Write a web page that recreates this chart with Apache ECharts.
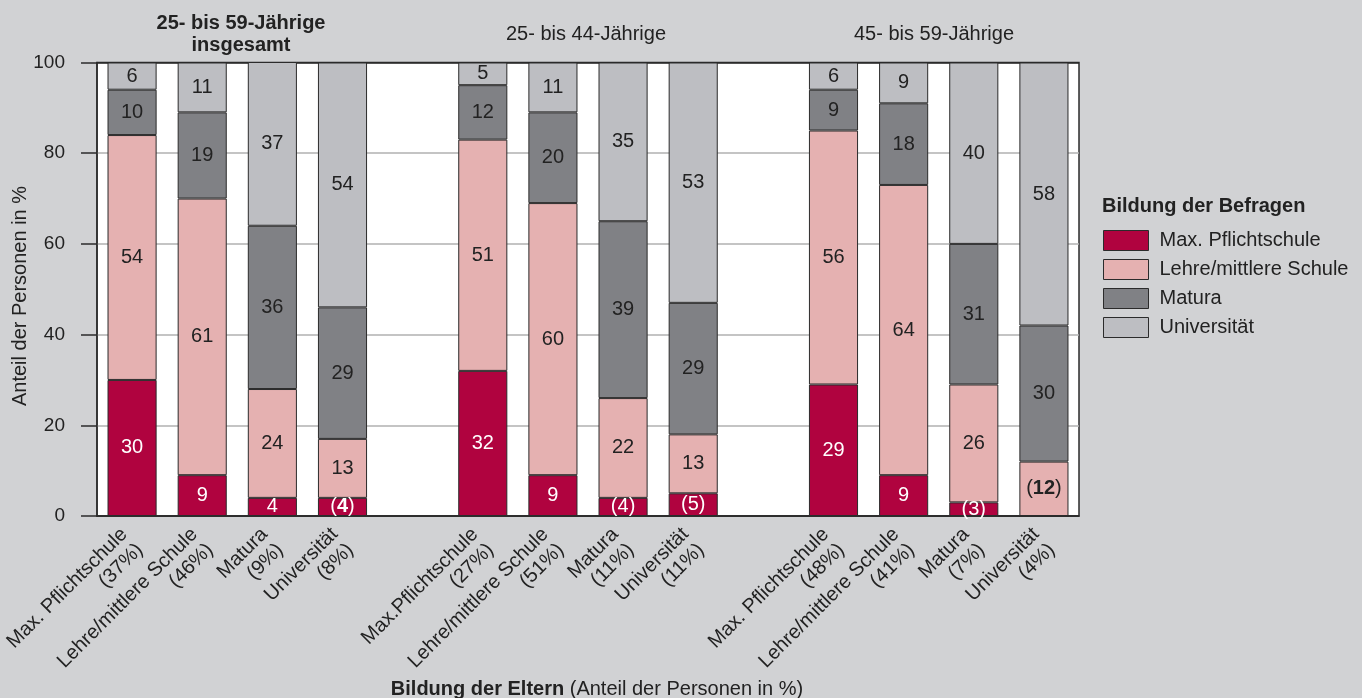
<!DOCTYPE html>
<html><head><meta charset="utf-8">
<script src="https://cdn.jsdelivr.net/npm/echarts@6/dist/echarts.min.js"></script>
<style>html,body{margin:0;padding:0;background:#d1d2d4}#c{width:1362px;height:698px}</style>
</head><body><div id="c"></div>
<script>
const categories = [
  'Max. Pflichtschule\n(37%)', 'Lehre/mittlere Schule\n(46%)', 'Matura\n(9%)', 'Universität\n(8%)', '',
  'Max.Pflichtschule\n(27%)', 'Lehre/mittlere Schule\n(51%)', 'Matura\n(11%)', 'Universität\n(11%)', '',
  'Max. Pflichtschule\n(48%)', 'Lehre/mittlere Schule\n(41%)', 'Matura\n(7%)', 'Universität\n(4%)'
];
const groupTitles = ['25- bis 59-Jährige\ninsgesamt', '25- bis 44-Jährige', '45- bis 59-Jährige'];
const seriesNames = ['Max. Pflichtschule', 'Lehre/mittlere Schule', 'Matura', 'Universität'];
const pflicht = [30, 9, 4, 4, null, 32, 9, 4, 5, null, 29, 9, 3, 0];
const lehre   = [54, 61, 24, 13, null, 51, 60, 22, 13, null, 56, 64, 26, 12];
const matura  = [10, 19, 36, 29, null, 12, 20, 39, 29, null, 9, 18, 31, 30];
const uni     = [6, 11, 37, 54, null, 5, 11, 35, 53, null, 6, 9, 40, 58];
// small-sample values shown in parentheses; some with bold digits
const parenIdx = [[3, 7, 8, 12], [13], [], []];
const boldIdx  = [[3], [13], [], []];
const yTicks = [0, 20, 40, 60, 80, 100];

const colors = ['#b0033f', '#e5b1b1', '#808185', '#bdbec2'];
const labelColors = ['#ffffff', '#222222', '#222222', '#222222'];
const FONT = '"Liberation Sans", Arial, Helvetica, sans-serif';
const dataSets = [pflicht, lehre, matura, uni];

const chart = echarts.init(document.getElementById('c'));
const series = dataSets.map((d, si) => ({
  name: seriesNames[si],
  type: 'bar',
  stack: 'total',
  barWidth: '70%',
  data: d,
  itemStyle: { color: colors[si], borderColor: '#2b2b2b', borderWidth: 1 },
  label: {
    show: true,
    position: 'inside',
    fontFamily: FONT,
    fontSize: 20,
    color: labelColors[si],
    formatter: p => {
      const v = p.value;
      if (v == null || v === 0) return '';
      if (parenIdx[si].includes(p.dataIndex)) {
        if (boldIdx[si].includes(p.dataIndex)) return '({bd|' + v + '})';
        return '(' + v + ')';
      }
      return String(v);
    },
    rich: { bd: { fontWeight: 'bold', fontFamily: FONT, fontSize: 20, color: labelColors[si] } }
  },
  emphasis: { disabled: true }
}));

chart.setOption({
  backgroundColor: '#d1d2d4',
  animation: false,
  textStyle: { fontFamily: FONT },
  grid: { left: 97, right: 283, top: 62.5, bottom: 182, show: true, backgroundColor: '#ffffff',
    borderColor: '#2b2b2b', borderWidth: 1.5, containLabel: false, outerBoundsMode: 'none' },
  legend: {
    orient: 'vertical', left: 1103, top: 230, padding: 0,
    icon: 'rect',
    itemWidth: 45, itemHeight: 20, itemGap: 8,
    data: seriesNames,
    selectedMode: false,
    itemStyle: { borderColor: '#2b2b2b', borderWidth: 1 },
    textStyle: { fontFamily: FONT, fontSize: 20, color: '#222', padding: [0, 0, 0, 6] }
  },
  xAxis: {
    type: 'category',
    data: categories,
    axisLine: { lineStyle: { color: '#2b2b2b', width: 1.5 } },
    axisTick: { show: false },
    axisLabel: { interval: 0, rotate: 45, fontFamily: FONT, fontSize: 20, lineHeight: 22, color: '#222', margin: 23 }
  },
  yAxis: {
    type: 'value', min: 0, max: 100, interval: 20,
    axisLine: { show: true, lineStyle: { color: '#2b2b2b', width: 1.5 } },
    axisTick: { show: true, length: 16, lineStyle: { color: '#2b2b2b', width: 1.5 } },
    axisLabel: { fontFamily: FONT, fontSize: 19, color: '#222', margin: 32,
      formatter: v => yTicks.includes(v) ? String(v) : '' },
    splitLine: { show: true, lineStyle: { color: ['#2b2b2b', '#b0b0b0', '#b0b0b0', '#b0b0b0', '#b0b0b0', '#2b2b2b'], width: 1.5 } }
  },
  graphic: [
    { type: 'text', x: 20, y: 296, rotation: Math.PI / 2, style: { text: 'Anteil der Personen in %', font: '20px ' + FONT, fill: '#222', align: 'center', verticalAlign: 'middle' } },
    { type: 'text', x: 597, y: 689, style: { text: '{b|Bildung der Eltern} (Anteil der Personen in %)', font: '20px ' + FONT, fill: '#222', align: 'center', verticalAlign: 'middle',
      rich: { b: { fontWeight: 'bold', fontFamily: FONT, fontSize: 20, fill: '#222' } } } },
    { type: 'text', x: 241, y: 34, style: { text: groupTitles[0], font: 'bold 20px ' + FONT, fill: '#222', align: 'center', verticalAlign: 'middle', lineHeight: 22 } },
    { type: 'text', x: 586, y: 34, style: { text: groupTitles[1], font: '20px ' + FONT, fill: '#222', align: 'center', verticalAlign: 'middle' } },
    { type: 'text', x: 934, y: 34, style: { text: groupTitles[2], font: '20px ' + FONT, fill: '#222', align: 'center', verticalAlign: 'middle' } },
    { type: 'text', x: 1102, y: 206, style: { text: 'Bildung der Befragen', font: 'bold 20px ' + FONT, fill: '#222', align: 'left', verticalAlign: 'middle' } }
  ],
  series: series
});
</script></body></html>
